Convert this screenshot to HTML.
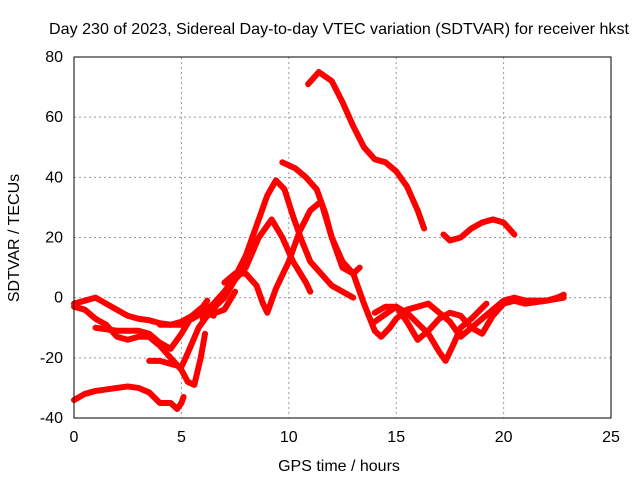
<!DOCTYPE html>
<html><head><meta charset="utf-8"><style>
body{margin:0;background:#fff}
svg text{font-family:"Liberation Sans",sans-serif;font-size:16px;fill:#000}
</style></head><body>
<svg id="chart" width="640" height="480">
<rect width="640" height="480" fill="#fff"/>
<text x="339" y="34" text-anchor="middle" textLength="580" lengthAdjust="spacingAndGlyphs">Day 230 of 2023, Sidereal Day-to-day VTEC variation (SDTVAR) for receiver hkst</text>
<text x="339" y="471" text-anchor="middle">GPS time / hours</text>
<text transform="translate(19,238) rotate(-90)" text-anchor="middle">SDTVAR / TECUs</text>
<g id="grid"></g><g id="ticks"></g><g id="series"></g>
<rect x="74" y="57" width="537" height="361" fill="none" stroke="#000"/>
</svg>
<script>
const xTicks=[0,5,10,15,20,25];
const yTicks=[-40,-20,0,20,40,60,80];
const s1=[[0,-34],[0.5,-32],[1,-31],[1.5,-30.5],[2,-30],[2.5,-29.5],[3,-30],[3.5,-31.5],[4,-35],[4.5,-35],[4.8,-37],[5,-35],[5.1,-33]];
const s2=[[10.9,71],[11.4,75],[12,72],[12.5,65],[13,57],[13.5,50],[14,46],[14.5,45],[15,42],[15.5,37],[16,29],[16.3,23]];
const s3=[[17.2,21],[17.5,19],[18,20],[18.5,23],[19,25],[19.5,26],[20,25],[20.5,21]];
const s4=[[4,-9],[5,-9],[5.5,-7],[6,-5],[6.5,-2],[7,2],[7.5,7],[8,14],[8.5,24],[9,34],[9.4,39],[9.8,36],[10.2,27],[10.6,19],[11,12],[11.5,8],[12,4],[12.5,2],[13,0]];
const s5=[[7,5],[7.5,8],[8,8],[8.5,4],[8.8,-2],[9,-5],[9.4,3],[10,12],[10.5,22],[11,29],[11.5,32],[12,20],[12.5,10],[13,8],[13.3,10]];
const s6=[[6,-7],[7,0],[7.5,6],[8,10],[8.6,20],[9.2,26],[9.7,20],[10.2,12],[10.8,5],[11,2]];
const s7=[[9.7,45],[10.3,43],[10.8,40],[11.3,36],[11.7,28],[12,20],[12.5,12],[13,8],[13.5,-2],[14,-11],[14.3,-13],[14.7,-10],[15,-7],[15.5,-4],[16,-3],[16.5,-2],[17,-5],[17.5,-8],[18,-13],[18.5,-10],[19,-7],[19.5,-4],[20,-1],[20.5,0],[21,-1],[21.5,-1],[22,-1],[22.5,0],[22.8,1]];
const s8=[[14,-5],[14.5,-3],[15,-3],[15.5,-8],[16,-14],[16.5,-11],[17,-7],[17.5,-5],[18,-6],[18.5,-10],[19,-12],[19.5,-6],[20,-2],[20.5,-1],[21,-2],[22,-1],[22.8,0]];
const s9=[[14,-8],[15,-3],[15.5,-5],[16.5,-12],[17,-18],[17.3,-21],[17.7,-15],[18,-10],[18.5,-7],[19.2,-2]];
const s10=[[0,-2],[0.5,-1],[1,0],[1.5,-2],[2,-4],[2.5,-6],[3,-7],[3.5,-7.5],[4,-8.5],[4.5,-9],[5,-8],[5.5,-6],[6,-3],[6.2,-1]];
const s11=[[0,-3],[0.5,-4],[1,-7],[1.5,-9],[2,-13],[2.5,-14],[3,-13],[3.5,-13],[4,-16],[4.5,-20],[5,-24],[5.3,-28],[5.6,-29],[5.9,-20],[6.1,-12]];
const s12=[[1,-10],[2,-11],[3,-11],[3.5,-12],[4,-15],[4.5,-17],[5,-12],[5.5,-6],[6,-4],[6.5,-6]];
const s13=[[3.5,-21],[4,-21],[4.5,-22],[5,-23],[5.2,-20],[5.5,-15],[5.8,-10],[6.2,-6],[7,-4],[7.5,2]];
const seriesList=[s1,s2,s3,s4,s5,s6,s7,s8,s9,s10,s11,s12,s13];
const X=v=>74+(v-0)/25*537, Y=v=>418-(v+40)/120*361;
const NS="http://www.w3.org/2000/svg";
const g=document.getElementById('grid'),t=document.getElementById('ticks'),se=document.getElementById('series');
function mk(p,tag,a){const e=document.createElementNS(NS,tag);for(const k in a)e.setAttribute(k,a[k]);p.appendChild(e);return e;}
xTicks.forEach(v=>{
 if(v>0&&v<25){const l=mk(g,'line',{x1:X(v),x2:X(v),y1:57,y2:418,stroke:'#999','stroke-dasharray':'2,3'});
 
 }
 const tx=mk(t,'text',{x:X(v),y:442,'text-anchor':'middle'});tx.textContent=v;
 
 
});
yTicks.forEach(v=>{
 if(v>-40&&v<80){const l=mk(g,'line',{x1:74,x2:611,y1:Y(v),y2:Y(v),stroke:'#999','stroke-dasharray':'2,3'});
 
 }
 const tx=mk(t,'text',{x:63,y:Y(v)+5,'text-anchor':'end'});tx.textContent=v;
 
 
});
seriesList.forEach((s,i)=>{
 const p=mk(se,'polyline',{points:s.map(d=>X(d[0])+','+Y(d[1])).join(' '),fill:'none',stroke:'#f00','stroke-width':6,'stroke-linejoin':'round','stroke-linecap':'round'});
 
 
});
</script>
</body></html>
